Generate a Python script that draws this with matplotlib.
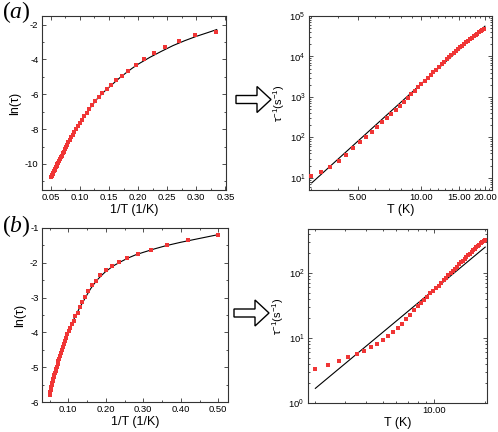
import matplotlib
matplotlib.use("Agg")
import matplotlib.pyplot as plt
import numpy as np
from matplotlib.patches import Polygon
from matplotlib.ticker import FixedLocator, MultipleLocator, FormatStrFormatter, NullFormatter

plt.rcParams['font.family'] = ['Liberation Sans', 'DejaVu Sans']
plt.rcParams['mathtext.default'] = 'regular'
plt.rcParams['mathtext.fontset'] = 'custom'
plt.rcParams['mathtext.it'] = 'Liberation Serif:italic'
plt.rcParams['axes.unicode_minus'] = False

# (a) temperature (K) and ln(tau)
T_a = [3.00, 3.35, 3.70, 4.05, 4.40, 4.75, 5.10, 5.45, 5.80, 6.15,
       6.50, 6.85, 7.20, 7.55, 7.90, 8.25, 8.60, 8.95, 9.30, 9.65,
       10.00, 10.35, 10.70, 11.05, 11.40, 11.75, 12.10, 12.45, 12.80, 13.15,
       13.50, 13.85, 14.20, 14.55, 14.90, 15.25, 15.60, 15.95, 16.30, 16.65,
       17.00, 17.35, 17.70, 18.05, 18.40, 18.75, 19.10, 19.45, 19.80]
lntau_a = [-2.40, -2.62, -2.92, -3.27, -3.62, -3.98, -4.33, -4.64, -4.93, -5.20,
           -5.46, -5.72, -5.93, -6.16, -6.39, -6.63, -6.85, -7.06, -7.25, -7.45,
           -7.63, -7.81, -7.99, -8.17, -8.32, -8.46, -8.62, -8.76, -8.90, -9.04,
           -9.16, -9.29, -9.40, -9.52, -9.62, -9.73, -9.83, -9.92, -10.02, -10.11,
           -10.19, -10.27, -10.35, -10.43, -10.50, -10.58, -10.65, -10.71, -10.78]

# (b)
T_b = [2.00, 2.38, 2.75, 3.13, 3.50, 3.88, 4.25, 4.63, 5.00, 5.38,
       5.75, 6.13, 6.50, 6.88, 7.25, 7.63, 8.00, 8.38, 8.75, 9.13,
       9.50, 9.88, 10.25, 10.63, 11.00, 11.38, 11.75, 12.13, 12.50, 12.88,
       13.25, 13.63, 14.00, 14.38, 14.75, 15.13, 15.50, 15.88, 16.25, 16.63,
       17.00, 17.38, 17.75, 18.13, 18.50, 18.88, 19.25, 19.63, 20.00]
lntau_b = [-1.19, -1.35, -1.49, -1.63, -1.74, -1.85, -1.98, -2.10, -2.22, -2.36,
           -2.51, -2.65, -2.81, -2.97, -3.13, -3.28, -3.43, -3.54, -3.66, -3.77,
           -3.88, -3.97, -4.06, -4.16, -4.25, -4.34, -4.43, -4.52, -4.60, -4.68,
           -4.76, -4.83, -4.91, -4.98, -5.04, -5.11, -5.17, -5.23, -5.29, -5.35,
           -5.41, -5.46, -5.51, -5.56, -5.61, -5.66, -5.70, -5.75, -5.79]

# fitted curves
fit_a_x = [0.05, 0.055, 0.06, 0.065, 0.07, 0.075, 0.08, 0.085, 0.09, 0.095,
           0.10, 0.11, 0.12, 0.13, 0.14, 0.15, 0.16, 0.17, 0.18, 0.19,
           0.20, 0.22, 0.24, 0.26, 0.28, 0.30, 0.32, 0.335]
fit_a_y = [-10.82, -10.47, -10.13, -9.80, -9.47, -9.14, -8.83, -8.50, -8.20, -7.92,
           -7.65, -7.14, -6.68, -6.25, -5.90, -5.60, -5.30, -5.01, -4.75, -4.50,
           -4.27, -3.88, -3.53, -3.20, -2.92, -2.67, -2.45, -2.28]
fit_b_x = [0.05, 0.06, 0.07, 0.08, 0.09, 0.10, 0.11, 0.12, 0.13, 0.14,
           0.15, 0.16, 0.17, 0.18, 0.19, 0.20, 0.22, 0.24, 0.26, 0.28,
           0.30, 0.33, 0.36, 0.40, 0.45, 0.50]
fit_b_y = [-5.79, -5.33, -4.93, -4.58, -4.26, -3.98, -3.73, -3.51, -3.30, -3.11,
           -2.92, -2.74, -2.59, -2.46, -2.35, -2.25, -2.09, -1.97, -1.86, -1.77,
           -1.70, -1.60, -1.51, -1.41, -1.30, -1.19]

# power-law lines on the right panels
pow_a_T = [3.02, 20.0]
pow_a_rate = [7.5, 56000]
pow_b_T = [2.0, 20.0]
pow_b_rate = [1.68, 250]

red = '#f03535'
W, H = 498, 432


def box(l, t, r, b):
    return [l / W, 1 - b / H, (r - l) / W, (b - t) / H]


def style(ax):
    ax.tick_params(which='both', direction='in', top=True, right=True,
                   labelsize=6.8, width=0.6, color='#333333', pad=2.5)
    ax.tick_params(which='major', length=3)
    ax.tick_params(which='minor', length=1.6)
    for s in ax.spines.values():
        s.set_linewidth(0.8)
        s.set_color('#333333')


fig = plt.figure(figsize=(W / 100, H / 100), dpi=100)

ax1 = fig.add_axes(box(42, 16, 226, 190))
ax2 = fig.add_axes(box(309, 16, 492, 190))
ax3 = fig.add_axes(box(42, 228, 228, 402))
ax4 = fig.add_axes(box(308, 229, 487, 403))

T_a = np.array(T_a)
T_b = np.array(T_b)
lntau_a = np.array(lntau_a)
lntau_b = np.array(lntau_b)

# left panels
for ax, T, y, fx, fy in [(ax1, T_a, lntau_a, fit_a_x, fit_a_y),
                         (ax3, T_b, lntau_b, fit_b_x, fit_b_y)]:
    ax.plot(fx, fy, color='black', lw=0.8, zorder=2)
    ax.plot(1 / T, y, 's', color=red, ms=3.0, mew=0, zorder=3)
    ax.set_xlabel('1/T (1/K)', fontsize=9, labelpad=1)
    ax.set_ylabel('ln(τ)', fontsize=9, labelpad=3)
    ax.xaxis.set_major_formatter(FormatStrFormatter('%.2f'))
    style(ax)

ax1.set_xlim(0.035, 0.351)
ax1.set_ylim(-11.5, -1.5)
ax1.xaxis.set_major_locator(MultipleLocator(0.05))
ax1.xaxis.set_minor_locator(MultipleLocator(0.025))
ax1.yaxis.set_major_locator(MultipleLocator(2))
ax1.yaxis.set_minor_locator(MultipleLocator(1))

ax3.set_xlim(0.03, 0.526)
ax3.set_ylim(-6, -1)
ax3.xaxis.set_major_locator(MultipleLocator(0.1))
ax3.xaxis.set_minor_locator(MultipleLocator(0.05))
ax3.yaxis.set_major_locator(MultipleLocator(1))
ax3.yaxis.set_minor_locator(MultipleLocator(0.5))

# right panels
for ax, T, y, pT, pr in [(ax2, T_a, lntau_a, pow_a_T, pow_a_rate),
                         (ax4, T_b, lntau_b, pow_b_T, pow_b_rate)]:
    ax.set_xscale('log')
    ax.set_yscale('log')
    ax.plot(pT, pr, color='black', lw=0.8, zorder=2)
    ax.plot(T, np.exp(-y), 's', color=red, ms=3.0, mew=0, zorder=3)
    ax.set_xlabel('T (K)', fontsize=9, labelpad=1)
    ax.set_ylabel('τ$^{-1}$(s$^{-1}$)', fontsize=8, labelpad=2)
    ax.xaxis.set_minor_formatter(NullFormatter())
    style(ax)

ax2.set_xlim(2.93, 21.6)
ax2.set_ylim(5, 1e5)
ax2.xaxis.set_major_locator(FixedLocator([5, 10, 15, 20]))
ax2.xaxis.set_minor_locator(FixedLocator([3, 4, 6, 7, 8, 9, 11, 12, 13, 14, 16, 17, 18, 19, 21]))
ax2.xaxis.set_major_formatter(FormatStrFormatter('%.2f'))

ax4.set_xlim(1.81, 20.5)
ax4.set_ylim(1, 475)
ax4.xaxis.set_major_locator(FixedLocator([10]))
ax4.xaxis.set_minor_locator(FixedLocator([2, 3, 4, 5, 6, 7, 8, 9, 20]))
ax4.xaxis.set_major_formatter(FormatStrFormatter('%.2f'))

# panel letters
fig.text(2 / W, 1 - 12 / H, r'($\mathit{a}$)', fontsize=17, family='Liberation Serif',
         va='center', ha='left')
fig.text(2 / W, 1 - 226 / H, r'($\mathit{b}$)', fontsize=17, family='Liberation Serif',
         va='center', ha='left')


# outlined block arrows between panels
def arrow(x0, yc):
    pts = [(x0, yc - 4), (x0 + 21, yc - 4), (x0 + 21, yc - 13), (x0 + 35, yc),
           (x0 + 21, yc + 13), (x0 + 21, yc + 4), (x0, yc + 4)]
    pts = [(x / W, 1 - y / H) for x, y in pts]
    fig.patches.append(Polygon(pts, closed=True, facecolor='white', edgecolor='black',
                               lw=1.0, transform=fig.transFigure, figure=fig))


arrow(236, 99.5)
arrow(234, 313)

fig.savefig('out.png', dpi=100)
